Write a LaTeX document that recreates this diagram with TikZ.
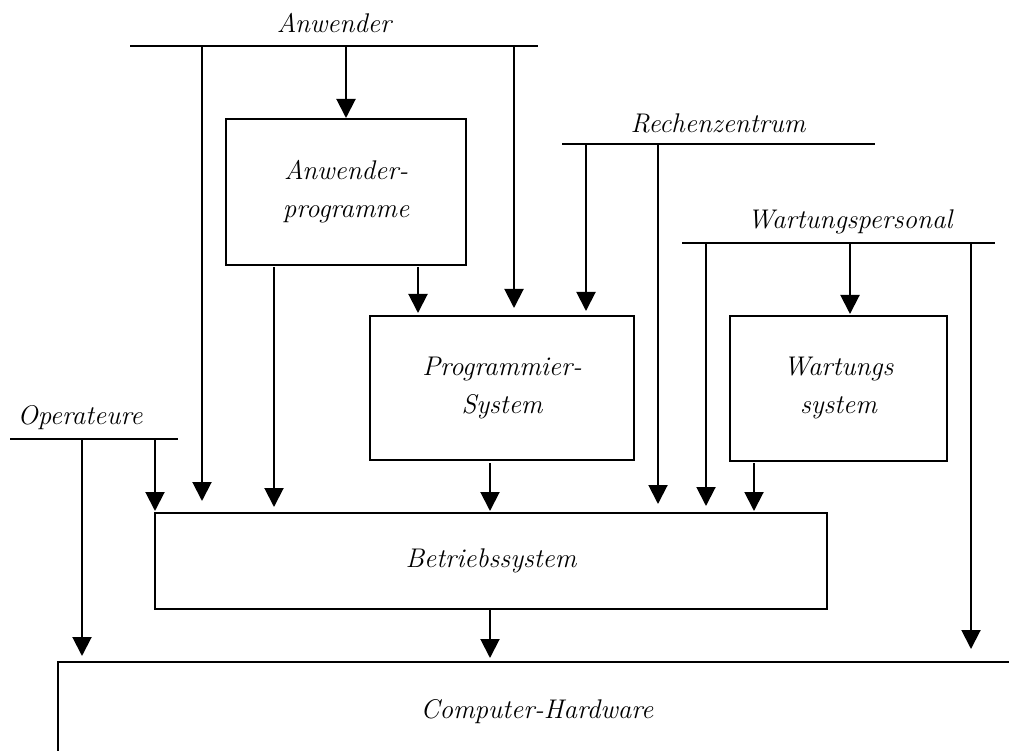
\documentclass[tikz,border=0pt]{standalone}
\usetikzlibrary{arrows.meta}
\newcommand{\lab}{\fontsize{27}{38}\selectfont\itshape}
\begin{document}
\begin{tikzpicture}[x=1pt,y=-1pt,line width=2pt,
  arr/.style={-{Triangle[width=19pt,length=19pt]}},
  box/.style={draw,inner sep=0pt,align=center,font=\lab},
  lbl/.style={font=\lab,inner sep=0pt}]
\useasboundingbox (0,0) rectangle (1009,751);
% boxes
\node[box,minimum width=240pt,minimum height=146pt] (apps) at (346,192) {Anwender-\\programme};
\node[box,minimum width=264pt,minimum height=144pt] (prog) at (502,388) {Programmier-\\System};
\node[box,minimum width=217pt,minimum height=145pt] (wart) at (838.5,388.5) {Wartungs\\system};
\node[box,minimum width=672pt,minimum height=96pt] (bs) at (491,561) {Betriebssystem};
\node[lbl] (hw) at (537,712) {Computer-Hardware};
\draw (58,760) coordinate (hwL) -- (58,662) coordinate (hwTL) -- (1015,662) coordinate (hwTR);
% labels
\node[lbl] (anw) at (334,23) {Anwender};
\node[lbl] (rz) at (718,123) {Rechenzentrum};
\node[lbl] (wp) at (850,222) {Wartungspersonal};
\node[lbl] (op) at (80,418) {Operateure};
% bus lines
\draw (130,46) coordinate (anwL) -- (538,46) coordinate (anwR);
\draw (562,144) coordinate (rzL) -- (875,144) coordinate (rzR);
\draw (682,243) coordinate (wpL) -- (995,243) coordinate (wpR);
\draw (10,439) coordinate (opL) -- (178,439) coordinate (opR);
% start / end points
\coordinate (a1) at (202,46);  \coordinate (a1e) at (202,501);
\coordinate (a2) at (346,46);
\coordinate (a3) at (514,46);  \coordinate (a3e) at (514,308);
\coordinate (p1) at (274,267); \coordinate (p1e) at (274,507);
\coordinate (p2) at (418,267); \coordinate (p2e) at (418,313);
\coordinate (r1) at (586,144); \coordinate (r1e) at (586,311);
\coordinate (r2) at (658,144); \coordinate (r2e) at (658,504);
\coordinate (w1) at (706,243); \coordinate (w1e) at (706,506);
\coordinate (w2) at (850,243); \coordinate (w2e) at (850,314);
\coordinate (w3) at (971,243); \coordinate (w3e) at (971,649);
\coordinate (s1) at (490,463); \coordinate (s1e) at (490,511);
\coordinate (s2) at (754,463); \coordinate (s2e) at (754,511);
\coordinate (o1) at (82,439);  \coordinate (o1e) at (82,656);
\coordinate (o2) at (155,439); \coordinate (o2e) at (155,511);
\coordinate (b1) at (490,609); \coordinate (b1e) at (490,658);
% connectors
\draw[arr] (a1) -- (a1e);
\draw[arr] (a2) -- (apps.north);
\draw[arr] (a3) -- (a3e);
\draw[arr] (p1) -- (p1e);
\draw[arr] (p2) -- (p2e);
\draw[arr] (r1) -- (r1e);
\draw[arr] (r2) -- (r2e);
\draw[arr] (w1) -- (w1e);
\draw[arr] (w2) -- (w2e);
\draw[arr] (w3) -- (w3e);
\draw[arr] (s1) -- (s1e);
\draw[arr] (s2) -- (s2e);
\draw[arr] (o1) -- (o1e);
\draw[arr] (o2) -- (o2e);
\draw[arr] (b1) -- (b1e);
\end{tikzpicture}
\end{document}
